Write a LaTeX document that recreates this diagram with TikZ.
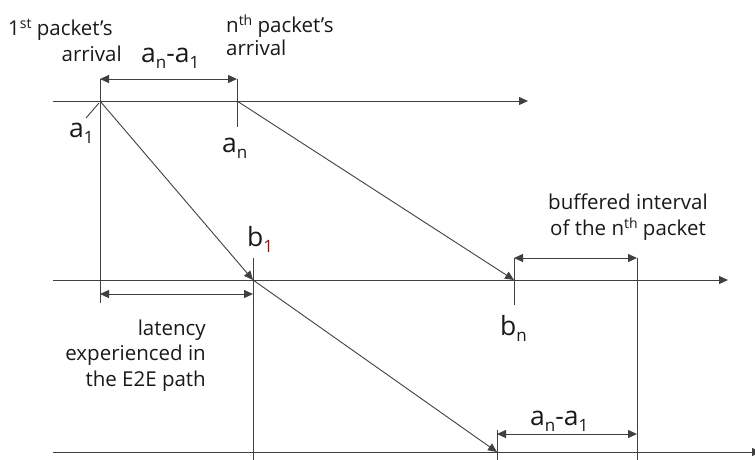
\documentclass[tikz,border=0pt]{standalone}
\usepackage{fontspec}
\setmainfont{Open Sans}
\usetikzlibrary{arrows.meta}
\definecolor{subred}{RGB}{130,30,20}
\newcommand{\lsub}[1]{{\fontsize{17}{17}\selectfont\raisebox{-6pt}{#1}}}
\newcommand{\lsup}[1]{{\fontsize{14}{14}\selectfont\raisebox{6.5pt}{#1}}}
\begin{document}
\begin{tikzpicture}[x=1pt,y=-1pt,
  ln/.style={line width=0.9pt,draw=black!75},
  arr/.style={ln,-{Triangle[length=9pt,width=8pt]}},
  dim/.style={ln,{Triangle[length=9pt,width=8pt]}-{Triangle[length=9pt,width=8pt]}},
  txt/.style={inner sep=0pt,text=black!90,font=\fontsize{20.5}{25}\selectfont},
  big/.style={inner sep=0pt,text=black!90,font=\fontsize{26.5}{26}\selectfont}]
\useasboundingbox (0,0) rectangle (755,459);
% coordinates
\coordinate (tl) at (53,101); \coordinate (tr) at (528,101);
\coordinate (ml) at (53,280); \coordinate (mr) at (728,280);
\coordinate (bl) at (53,452); \coordinate (br) at (761,452);
\coordinate (a1) at (100,101); \coordinate (an) at (237,101);
\coordinate (b1) at (253,280); \coordinate (bn) at (514,280);
\coordinate (c1) at (497,452);
\coordinate (a1top) at (100,79); \coordinate (a1bot) at (100,303);
\coordinate (antop) at (237,79); \coordinate (anbot) at (237,127);
\coordinate (b1top) at (253,258); \coordinate (b1bot) at (253,462);
\coordinate (bntop) at (514,258); \coordinate (bnbot) at (514,305);
\coordinate (ptop) at (637,258); \coordinate (pbot) at (637,462);
\coordinate (ctop) at (497,430); \coordinate (cbot) at (497,462);
\coordinate (la) at (100,294); \coordinate (lb) at (253,294);
\coordinate (da) at (100,79); \coordinate (db) at (237,79);
\coordinate (ba) at (514,258); \coordinate (bb) at (637,258);
\coordinate (ca) at (497,434); \coordinate (cb) at (637,434);
\coordinate (l1) at (86,118); \coordinate (l2) at (99,103);
% axes
\draw[arr] (tl) -- (tr);
\draw[arr] (ml) -- (mr);
\draw[arr] (bl) -- (br);
% verticals
\draw[ln] (a1top) -- (a1bot);
\draw[ln] (antop) -- (anbot);
\draw[ln] (b1top) -- (b1bot);
\draw[ln] (bntop) -- (bnbot);
\draw[ln] (ptop) -- (pbot);
\draw[ln] (ctop) -- (cbot);
% diagonals
\draw[arr] (a1) -- (b1);
\draw[arr] (b1) -- (c1);
\draw[arr] (an) -- (bn);
\draw[ln] (l1) -- (l2);
% dimension arrows
\draw[dim] (da) -- (db);
\draw[dim] (la) -- (lb);
\draw[dim] (ba) -- (bb);
\draw[dim] (ca) -- (cb);
% labels
\node[txt,anchor=base west] (t1) at (8,35) {1\lsup{st} packet’s};
\node[txt,anchor=base east] (t2) at (122,61) {arrival};
\node[txt,anchor=base west] (t3) at (226,32) {n\lsup{th} packet's};
\node[txt,anchor=base west] (t4) at (226,55) {arrival};
\node[big,anchor=base west] (t5) at (141,62) {a\lsub{n}-a\lsub{1}};
\node[big,anchor=base west] (la1) at (69,137) {a\lsub{1}};
\node[big,anchor=base west] (lan) at (222,152) {a\lsub{n}};
\node[big,anchor=base west] (lb1) at (247,246) {b\textcolor{subred}{\lsub{1}}};
\node[big,anchor=base west] (lbn) at (500,335) {b\lsub{n}};
\node[txt,anchor=base] (t6) at (628,209) {buffered interval};
\node[txt,anchor=base] (t7) at (628,235) {of the n\lsup{th} packet};
\node[txt,anchor=base east] (t8) at (206,335) {latency};
\node[txt,anchor=base east] (t9) at (206,360) {experienced in};
\node[txt,anchor=base east] (t10) at (206,386) {the E2E path};
\node[big,anchor=base west] (t11) at (530,425) {a\lsub{n}-a\lsub{1}};
\end{tikzpicture}
\end{document}
